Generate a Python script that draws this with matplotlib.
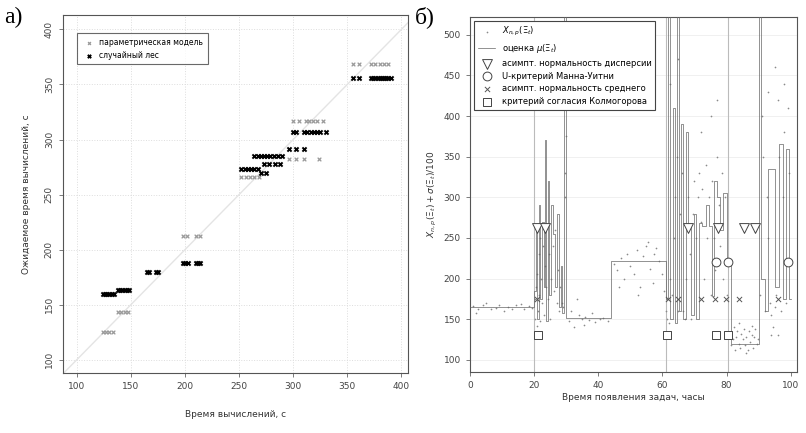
import matplotlib
matplotlib.use("Agg")
from matplotlib import pyplot as plt

plt.rcParams["font.family"] = ["DejaVu Sans"]

# ---- panel a: expected vs actual computation time ----
param_x = [124, 127, 130, 133, 138, 141, 144, 147, 198, 202, 210, 214,
           252, 256, 260, 264, 268, 296, 303, 310, 324,
           300, 305, 312, 315, 318, 322, 328,
           355, 361, 372, 376, 380, 384, 388]
param_y = [125, 125, 125, 125, 143, 143, 143, 143, 212, 212, 212, 212,
           266, 266, 266, 266, 266, 282, 282, 282, 282,
           317, 317, 317, 317, 317, 317, 317,
           369, 369, 369, 369, 369, 369, 369]

forest_x = [124, 126, 128, 130, 132, 134, 138, 140, 142, 144, 146, 148,
            165, 167, 173, 175, 198, 200, 203, 210, 212, 214,
            252, 255, 258, 261, 264, 267, 270, 275,
            264, 267, 270, 273, 276, 279, 282, 286, 290,
            273, 278, 283, 288, 296, 303, 310,
            300, 303, 310, 313, 316, 319, 322, 325, 330,
            355, 361, 372, 374, 376, 378, 380, 382, 384, 386, 388, 390]
forest_y = [160, 160, 160, 160, 160, 160, 163, 163, 163, 163, 163, 163,
            180, 180, 180, 180, 188, 188, 188, 188, 188, 188,
            273, 273, 273, 273, 273, 273, 270, 270,
            285, 285, 285, 285, 285, 285, 285, 285, 285,
            278, 278, 278, 278, 291, 291, 291,
            307, 307, 307, 307, 307, 307, 307, 307, 307,
            356, 356, 356, 356, 356, 356, 356, 356, 356, 356, 356, 356]

diag = [80, 420]

# ---- panel b: task arrival time ----
mu_t = [0, 20, 20.5, 21, 21.5, 22, 22.5, 23, 23.3, 23.8, 24.3, 24.8, 25.3, 26,
        26.6, 27.2, 27.8, 28.3, 28.8, 29.3, 29.8, 44, 61, 61.8, 62.4, 63.2,
        63.8, 64.5, 65.2, 65.8, 66.5, 67.3, 68, 69, 69.8, 70.5, 71.5, 72.5,
        73.5, 74.5, 75.5, 76.2, 77, 78, 79, 80, 81.5, 90, 90.8, 92, 93, 95,
        96.5, 97.5, 98.5, 99.5, 100]
mu_v = [165, 185, 262, 150, 290, 175, 270, 190, 370, 148, 320, 180, 290, 255,
        190, 280, 165, 215, 158, 530, 152, 222, 175, 530, 150, 410,
        145, 530, 160, 390, 150, 380, 265, 155, 280, 150, 268, 265,
        290, 265, 178, 320, 300, 260, 305, 218, 120, 530, 200, 160, 335, 190,
        365, 175, 360, 175, 175]

obs_t = [1, 2, 2.5, 4, 5, 6.5, 8, 9, 10.5, 12, 13, 14.5, 16, 17, 18.5, 19.5,
         20.3, 20.4, 20.6, 20.8, 21.0, 21.2, 21.4, 21.6, 21.8, 22.0, 22.3, 22.6,
         22.9, 23.2, 23.5, 23.8, 24.1, 24.4, 24.7, 25.0, 25.4, 25.8, 26.2, 26.6,
         27.0, 27.4, 27.8, 28.2, 28.6, 29.0, 29.5, 29.6, 29.8,
         31, 31.5, 32.5, 33.5, 34, 35, 35.5, 36, 37, 38, 39, 40.5, 41.5, 43,
         45, 46, 46.5, 47, 48, 49, 50, 51, 52, 52.5, 53, 54, 55, 55.5, 56, 57,
         57.5, 58, 59, 60, 60.5,
         61.2, 61.5, 62, 62.3, 62.5, 63, 63.5, 64, 64.5, 65, 65, 65.5, 66, 66.5,
         67, 67.5, 68, 68.5, 69, 69.5, 70, 70.5, 71, 71.5, 72, 72, 72.5, 73,
         73.5, 74, 74.5, 75, 75, 75.5, 76, 76.5, 77, 77, 77.5, 78, 78.5, 79,
         79.5, 80,
         81, 81.5, 82, 82.3, 82.7, 83, 83.4, 83.8, 84, 84.2, 84.6, 85, 85.4,
         85.8, 86, 86.2, 86.6, 87, 87.4, 87.8, 88, 88.2, 88.6, 89, 89.4, 89.8,
         90.5, 91, 91.5, 92, 92.5, 93, 93, 93.5, 94, 94, 94.5, 95, 95, 95.5,
         96, 96, 96.5, 97, 97.5, 98, 98, 98.5, 99, 99.5]
obs_v = [166, 158, 163, 167, 170, 162, 164, 168, 160, 165, 163, 167, 169, 162, 166, 164,
         150, 175, 190, 142, 205, 160, 230, 180, 148, 250, 200, 170,
         240, 155, 215, 190, 265, 175, 230, 150, 200, 240, 185, 260,
         170, 210, 160, 190, 170, 165, 300, 330, 375,
         148, 160, 140, 175, 155, 150, 143, 153, 149, 157, 146, 150, 152, 148,
         218, 210, 190, 225, 200, 230, 215, 205, 235, 180, 190, 228, 240, 245, 212, 195,
         230, 238, 222, 205, 185,
         160, 150, 145, 440, 200, 180, 250, 300, 350, 160, 470, 280, 330, 160,
         150, 200, 300, 230, 150, 280, 320, 250, 300, 330, 270, 380, 310, 200,
         340, 250, 300, 180, 400, 320, 250, 210, 350, 420, 290, 240, 330, 200,
         300, 180,
         130, 118, 125, 140, 112, 128, 135, 120, 145, 115, 132, 125, 138,
         118, 108, 128, 112, 135, 122, 130, 142, 115, 128, 138, 120, 125,
         180, 400, 350, 160, 300, 250, 430, 170, 155, 130, 140, 165, 460, 180,
         420, 130, 350, 160, 300, 380, 440, 170, 410, 330]

change_t = [20, 61, 80.5]

tri_t = [21, 23.3, 68, 77.3, 85.4, 88.8]
tri_v = [262, 262, 262, 262, 262, 262]
circ_t = [76.8, 80.3, 99.3]
circ_v = [220, 220, 220]
cross_t = [20.8, 61.7, 64.8, 72, 76.3, 79.8, 83.9, 95.9]
cross_v = [175, 175, 175, 175, 175, 175, 175, 175]
sq_t = [21.2, 61.5, 76.8, 80.3]
sq_v = [131, 131, 131, 131]

fig = plt.figure(figsize=(8.06, 4.33), dpi=100)

tick_kw = dict(labelsize=6.5, labelcolor="#444444", color="#666666", length=3, width=0.6)

# ---------- panel a ----------
ax1 = fig.add_axes([0.078, 0.139, 0.428, 0.826])
ax1.grid(True, color="#dddddd", linestyle=":", linewidth=0.7)
ax1.set_axisbelow(True)
ax1.plot(diag, diag, color="#e4e4e4", linewidth=1.0, zorder=1)
ax1.scatter(param_x, param_y, marker="x", s=7, color="#9a9a9a", linewidths=0.9,
            label="параметрическая модель", zorder=2)
ax1.scatter(forest_x, forest_y, marker="x", s=9, color="black", linewidths=1.4,
            label="случайный лес", zorder=3)
ax1.set_xlim(87, 406)
ax1.set_ylim(88, 413)
ax1.set_xticks([100, 150, 200, 250, 300, 350, 400])
ax1.set_yticks([100, 150, 200, 250, 300, 350, 400])
ax1.tick_params(**tick_kw)
for lab in ax1.get_yticklabels():
    lab.set_rotation(90)
    lab.set_va("center")
ax1.set_xlabel("Время вычислений, с", fontsize=6.5, color="#333333", labelpad=14)
ax1.set_ylabel("Ожидаемое время вычислений, с", fontsize=6.5, color="#333333", labelpad=10)
for sp in ax1.spines.values():
    sp.set_color("#555555")
    sp.set_linewidth(0.8)
leg1 = ax1.legend(loc="upper left", fontsize=5.5, frameon=True, fancybox=False,
                  edgecolor="#444444", handletextpad=0.3, borderpad=0.6,
                  bbox_to_anchor=(0.03, 0.96), markerscale=0.8)
leg1.get_frame().set_linewidth(0.8)

fig.text(0.005, 0.985, "а)", fontsize=17, family="Liberation Serif", va="top", ha="left")

# ---------- panel b ----------
ax2 = fig.add_axes([0.583, 0.141, 0.406, 0.82])
for y in [100, 150, 200, 250, 300, 350, 400, 450, 500]:
    ax2.axhline(y, color="#eeeeee", linewidth=0.6, zorder=0)
for t in change_t:
    ax2.axvline(t, color="#bbbbbb", linewidth=0.8, zorder=1)
ax2.scatter(obs_t, obs_v, s=1.5, color="#8a8a8a", marker="o", linewidths=0,
            label=r"$X_{n,p}(\Xi_t)$", zorder=2)
ax2.plot(mu_t, mu_v, drawstyle="steps-post", color="#666666", linewidth=0.5,
         label=r"оценка $\mu(\Xi_t)$", zorder=3)
ax2.scatter(tri_t, tri_v, marker="v", s=50, facecolors="white", edgecolors="#444444",
            linewidths=0.7, label="асимпт. нормальность дисперсии", zorder=4)
ax2.scatter(circ_t, circ_v, marker="o", s=40, facecolors="white", edgecolors="#444444",
            linewidths=0.7, label="U-критерий Манна-Уитни", zorder=4)
ax2.scatter(cross_t, cross_v, marker="x", s=14, color="#555555",
            linewidths=0.7, label="асимпт. нормальность среднего", zorder=4)
ax2.scatter(sq_t, sq_v, marker="s", s=40, facecolors="white", edgecolors="#444444",
            linewidths=0.7, label="критерий согласия Колмогорова", zorder=4)
ax2.set_xlim(0, 102)
ax2.set_ylim(85, 522)
ax2.set_xticks([0, 20, 40, 60, 80, 100])
ax2.set_yticks([100, 150, 200, 250, 300, 350, 400, 450, 500])
ax2.tick_params(**tick_kw)
ax2.set_xlabel("Время появления задач, часы", fontsize=6.5, color="#333333", labelpad=2)
ax2.set_ylabel(r"$X_{n,p}(\Xi_t) + \sigma(\Xi_t)/100$", fontsize=6.5, color="#333333",
               labelpad=3)
for sp in ax2.spines.values():
    sp.set_color("#555555")
    sp.set_linewidth(0.8)
leg2 = ax2.legend(loc="upper left", fontsize=6, frameon=True, fancybox=False,
                  edgecolor="#444444", handletextpad=0.8, borderpad=0.5,
                  labelspacing=0.45, bbox_to_anchor=(0.0, 1.0), framealpha=1)
leg2.get_frame().set_linewidth(0.8)

fig.text(0.515, 0.985, "б)", fontsize=17, family="Liberation Serif", va="top", ha="left")

fig.savefig("out.png", dpi=100)
